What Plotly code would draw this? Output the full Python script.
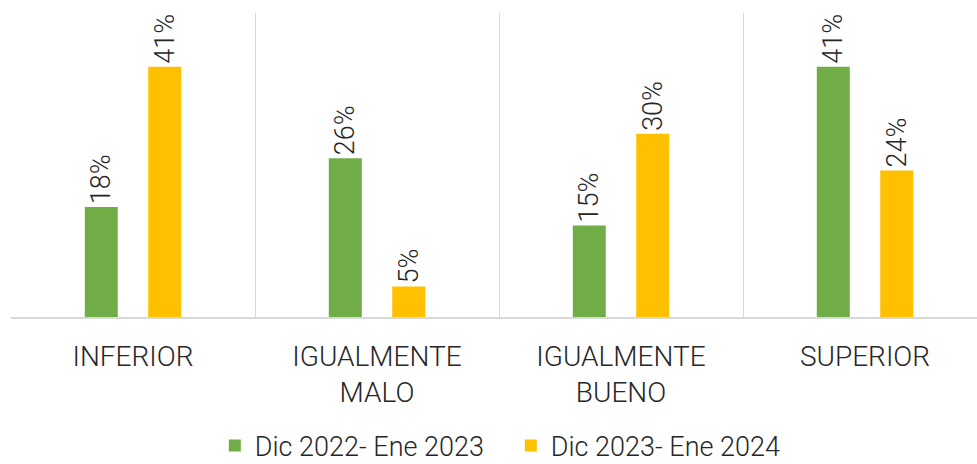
import plotly.graph_objects as go

# Comparison categories and shares per period
categories = ["INFERIOR", "IGUALMENTE<br>MALO", "IGUALMENTE<br>BUENO", "SUPERIOR"]
periodo_2023 = [0.18, 0.26, 0.15, 0.41]
periodo_2024 = [0.41, 0.05, 0.30, 0.24]
series_names = ["Dic 2022- Ene 2023", "Dic 2023- Ene 2024"]

GREEN = "#70AD47"
YELLOW = "#FFC000"
TEXT = "#262626"
GRID = "#D9D9D9"
FONT = "Roboto"

fig = go.Figure()
for name, vals, color in [(series_names[0], periodo_2023, GREEN),
                          (series_names[1], periodo_2024, YELLOW)]:
    fig.add_trace(go.Bar(
        x=categories, y=vals, name=name,
        marker=dict(color=color, line=dict(width=0)),
        texttemplate="%{y:.0%}", textposition="outside", textangle=-90,
        textfont=dict(family=FONT, size=27, color=TEXT, weight=300),
        constraintext="none", cliponaxis=False,
    ))

fig.update_layout(
    width=977, height=464,
    margin=dict(l=11, r=0, t=13, b=147, autoexpand=False),
    paper_bgcolor="white", plot_bgcolor="white",
    barmode="group", bargap=0.48, bargroupgap=0.48,
    font=dict(family=FONT, color=TEXT, weight=300),
    showlegend=True,
    legend=dict(orientation="h", x=0.211, xanchor="left", y=-0.505, yanchor="bottom",
                font=dict(size=27, family=FONT, color=TEXT, weight=300),
                entrywidth=251, entrywidthmode="pixels", itemwidth=30,
                tracegroupgap=0, borderwidth=0),
    xaxis=dict(
        type="category", range=[-0.5, 3.459], automargin=False,
        tickson="boundaries", showgrid=True, gridcolor=GRID, gridwidth=1,
        showline=True, linecolor=GRID, linewidth=2, ticks="",
        ticklabelstandoff=13,
        tickfont=dict(size=28, family=FONT, color=TEXT, weight=300),
    ),
    yaxis=dict(range=[0, 0.498], visible=False, showgrid=False, zeroline=False),
)

fig.write_html("out.html")
